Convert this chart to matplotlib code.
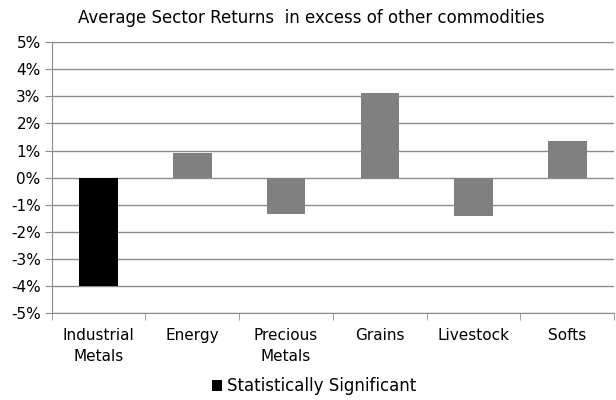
import numpy as np
import matplotlib
matplotlib.use("Agg")
from matplotlib import pyplot as plt
from matplotlib.patches import Patch

categories = ["Industrial\nMetals", "Energy", "Precious\nMetals", "Grains", "Livestock", "Softs"]
returns = [-4.0, 0.92, -1.33, 3.12, -1.43, 1.36]
significant = [True, False, False, False, False, False]
yticks = [-5, -4, -3, -2, -1, 0, 1, 2, 3, 4, 5]

plt.rcParams['font.family'] = 'DejaVu Sans'
fig = plt.figure(figsize=(6.16, 4.0), dpi=100)
ax = fig.add_axes([0.084, 0.2175, 0.913, 0.677])

x = np.arange(len(categories))
colors = ['#000000' if s else '#808080' for s in significant]
ax.bar(x, returns, width=0.41, color=colors, zorder=3)

ax.set_xlim(-0.5, len(categories) - 0.5)
ax.set_ylim(-5, 5)
ax.set_yticks(yticks)
ax.set_yticklabels([f"{t}%" for t in yticks], fontsize=11)
ax.yaxis.grid(True, color='#8c8c8c', linewidth=1, zorder=0)

ax.set_xticks(x)
ax.set_xticklabels(categories, fontsize=11, linespacing=1.45)
ax.tick_params(axis='x', length=0, pad=11)
ax.set_xticks(np.arange(-0.5, len(categories)), minor=True)
ax.tick_params(axis='x', which='minor', length=5, color='#8c8c8c', direction='out')
ax.tick_params(axis='y', length=5, color='#8c8c8c', direction='out', pad=3)

for s in ['top', 'right']:
    ax.spines[s].set_visible(False)
for s in ['left', 'bottom']:
    ax.spines[s].set_color('#8c8c8c')

fig.text(0.505, 0.955, "Average Sector Returns  in excess of other commodities",
         ha='center', va='center', fontsize=12)

handles = [Patch(facecolor='#000000', label='Statistically Significant')]
fig.legend(handles=handles, loc='center', bbox_to_anchor=(0.51, 0.035), frameon=False,
           fontsize=12, handlelength=0.65, handleheight=0.65, handletextpad=0.3)

fig.savefig("out.png", dpi=100)
